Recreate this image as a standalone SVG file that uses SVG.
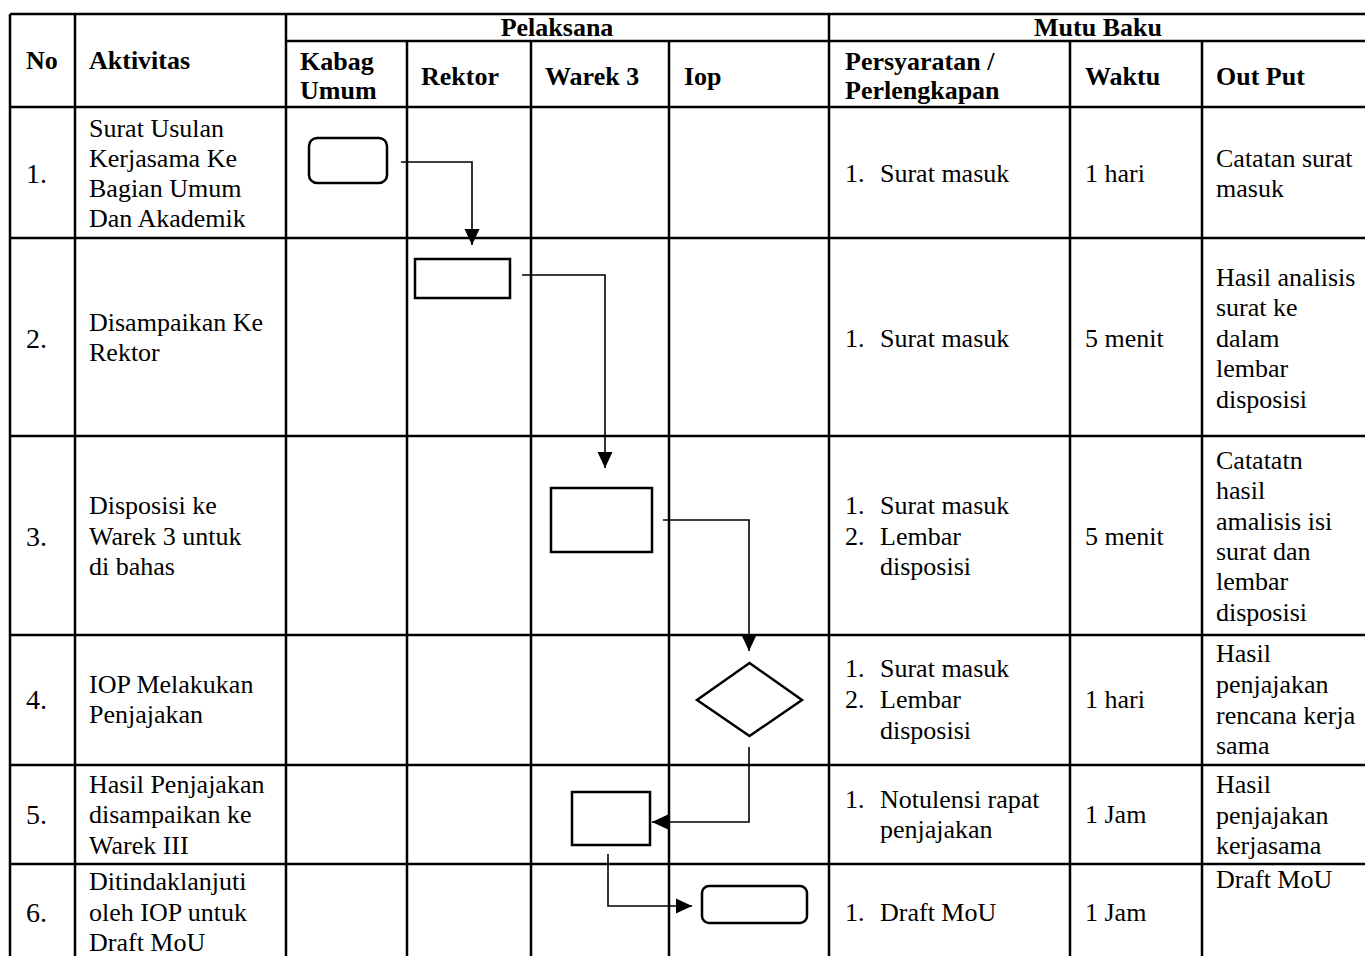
<svg xmlns="http://www.w3.org/2000/svg" width="1365" height="956" viewBox="0 0 1365 956">
<style>
.g{stroke:#000;stroke-width:2.5;fill:none}
.s{stroke:#000;stroke-width:2.5;fill:#fff}
.c{stroke:#000;stroke-width:1.6;fill:none}
.t text{font-size:26px;fill:#000}
.t text.n{font-size:28px}
.h{font-weight:bold}
.m{text-anchor:middle}
</style>
<defs>
<marker id="ah" markerUnits="userSpaceOnUse" markerWidth="16" markerHeight="16" viewBox="0 0 16 16" refX="16" refY="8" orient="auto">
<path d="M0,0.5 L16,8 L0,15.5 Z" fill="#000"/>
</marker>
</defs>
<rect width="1365" height="956" fill="#fff"/>
<g id="grid">
<line class="g" x1="10" y1="14" x2="1365" y2="14"/>
<line class="g" x1="286" y1="41" x2="1365" y2="41"/>
<line class="g" x1="10" y1="107" x2="1365" y2="107"/>
<line class="g" x1="10" y1="238" x2="1365" y2="238"/>
<line class="g" x1="10" y1="436" x2="1365" y2="436"/>
<line class="g" x1="10" y1="635" x2="1365" y2="635"/>
<line class="g" x1="10" y1="765" x2="1365" y2="765"/>
<line class="g" x1="10" y1="864" x2="1365" y2="864"/>
<line class="g" x1="10" y1="14" x2="10" y2="956"/>
<line class="g" x1="75" y1="14" x2="75" y2="956"/>
<line class="g" x1="286" y1="14" x2="286" y2="956"/>
<line class="g" x1="407" y1="41" x2="407" y2="956"/>
<line class="g" x1="531" y1="41" x2="531" y2="956"/>
<line class="g" x1="669" y1="41" x2="669" y2="956"/>
<line class="g" x1="829" y1="14" x2="829" y2="956"/>
<line class="g" x1="1070" y1="41" x2="1070" y2="956"/>
<line class="g" x1="1202" y1="41" x2="1202" y2="956"/>
</g>
<g class="t" font-family="Liberation Serif, DejaVu Serif, serif">
<g id="header">
<text class="h" x="26" y="69">No</text>
<text class="h" x="89" y="69">Aktivitas</text>
<text class="h m" x="557" y="36">Pelaksana</text>
<text class="h m" x="1098" y="36">Mutu Baku</text>
<text class="h" x="300" y="70">Kabag</text>
<text class="h" x="300" y="99">Umum</text>
<text class="h" x="421" y="85">Rektor</text>
<text class="h" x="545" y="85">Warek 3</text>
<text class="h" x="684" y="85">Iop</text>
<text class="h" x="845" y="70">Persyaratan /</text>
<text class="h" x="845" y="99">Perlengkapan</text>
<text class="h" x="1085" y="85">Waktu</text>
<text class="h" x="1216" y="85">Out Put</text>
</g>
<g id="row1">
<text class="n" x="26" y="183">1.</text>
<text x="89" y="137">Surat Usulan</text>
<text x="89" y="167">Kerjasama Ke</text>
<text x="89" y="197">Bagian Umum</text>
<text x="89" y="227">Dan Akademik</text>
<text x="845" y="182">1.</text><text x="880" y="182">Surat masuk</text>
<text x="1085" y="182">1 hari</text>
<text x="1216" y="167">Catatan surat</text>
<text x="1216" y="197">masuk</text>
</g>
<g id="row2">
<text class="n" x="26" y="348">2.</text>
<text x="89" y="331">Disampaikan Ke</text>
<text x="89" y="361">Rektor</text>
<text x="845" y="347">1.</text><text x="880" y="347">Surat masuk</text>
<text x="1085" y="347">5 menit</text>
<text x="1216" y="285.5">Hasil analisis</text>
<text x="1216" y="316">surat ke</text>
<text x="1216" y="346.5">dalam</text>
<text x="1216" y="377">lembar</text>
<text x="1216" y="407.5">disposisi</text>
</g>
<g id="row3">
<text class="n" x="26" y="546">3.</text>
<text x="89" y="514">Disposisi ke</text>
<text x="89" y="545">Warek 3 untuk</text>
<text x="89" y="575">di bahas</text>
<text x="845" y="514">1.</text><text x="880" y="514">Surat masuk</text>
<text x="845" y="545">2.</text><text x="880" y="545">Lembar</text>
<text x="880" y="575">disposisi</text>
<text x="1085" y="545">5 menit</text>
<text x="1216" y="469">Catatatn</text>
<text x="1216" y="499">hasil</text>
<text x="1216" y="530">amalisis isi</text>
<text x="1216" y="560">surat dan</text>
<text x="1216" y="590">lembar</text>
<text x="1216" y="621">disposisi</text>
</g>
<g id="row4">
<text class="n" x="26" y="709">4.</text>
<text x="89" y="693">IOP Melakukan</text>
<text x="89" y="723">Penjajakan</text>
<text x="845" y="677">1.</text><text x="880" y="677">Surat masuk</text>
<text x="845" y="708">2.</text><text x="880" y="708">Lembar</text>
<text x="880" y="739">disposisi</text>
<text x="1085" y="708">1 hari</text>
<text x="1216" y="662">Hasil</text>
<text x="1216" y="693">penjajakan</text>
<text x="1216" y="724">rencana kerja</text>
<text x="1216" y="754">sama</text>
</g>
<g id="row5">
<text class="n" x="26" y="824">5.</text>
<text x="89" y="793">Hasil Penjajakan</text>
<text x="89" y="823">disampaikan ke</text>
<text x="89" y="854">Warek III</text>
<text x="845" y="808">1.</text><text x="880" y="808">Notulensi rapat</text>
<text x="880" y="838">penjajakan</text>
<text x="1085" y="823">1 Jam</text>
<text x="1216" y="793">Hasil</text>
<text x="1216" y="824">penjajakan</text>
<text x="1216" y="854">kerjasama</text>
</g>
<g id="row6">
<text class="n" x="26" y="922">6.</text>
<text x="89" y="890">Ditindaklanjuti</text>
<text x="89" y="921">oleh IOP untuk</text>
<text x="89" y="951">Draft MoU</text>
<text x="845" y="921">1.</text><text x="880" y="921">Draft MoU</text>
<text x="1085" y="921">1 Jam</text>
<text x="1216" y="888">Draft MoU</text>
</g>
</g>
<g id="connectors">
<path class="c" d="M401,162 H472 V245" marker-end="url(#ah)"/>
<path class="c" d="M522,275 H605 V468" marker-end="url(#ah)"/>
<path class="c" d="M663,520 H749 V651" marker-end="url(#ah)"/>
<path class="c" d="M749,747 V822 H652" marker-end="url(#ah)"/>
<path class="c" d="M608,854 V906 H692" marker-end="url(#ah)"/>
</g>
<g id="n1"><rect class="s" x="309" y="138" width="78" height="45" rx="8"/></g>
<g id="n2"><rect class="s" x="415" y="259" width="95" height="39"/></g>
<g id="n3"><rect class="s" x="551" y="488" width="101" height="64"/></g>
<g id="n4"><polygon class="s" points="749.5,663 802,700 749.5,736 697,700"/></g>
<g id="n5"><rect class="s" x="572" y="792" width="78" height="53"/></g>
<g id="n6"><rect class="s" x="702" y="886" width="105" height="37" rx="7"/></g>
</svg>
